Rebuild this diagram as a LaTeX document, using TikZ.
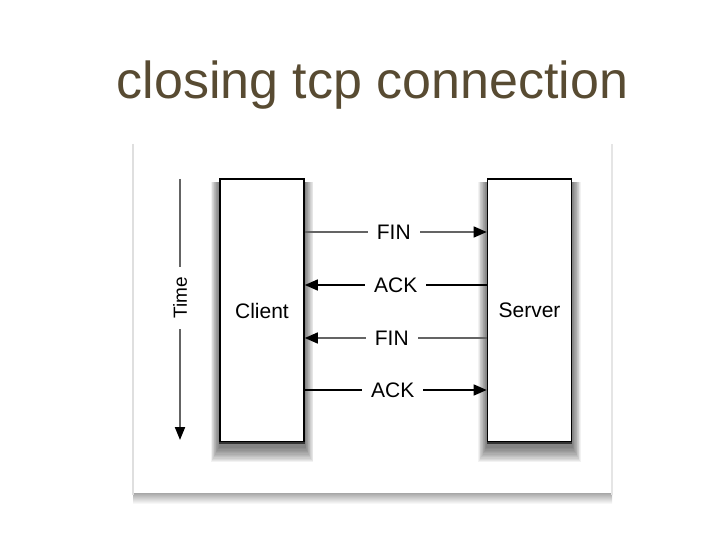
\documentclass[tikz,border=0pt]{standalone}
\usepackage{fontspec}
\setmainfont{Liberation Sans}
\usetikzlibrary{arrows.meta}
\pgfdeclarelayer{back}
\pgfdeclarelayer{shadow}
\pgfsetlayers{back,shadow,main}
\definecolor{titlecol}{RGB}{88,75,50}
\definecolor{msggray}{RGB}{100,100,100}
\tikzset{
  box/.style={draw=black, line width=1.6pt, fill=white, minimum width=84pt, minimum height=263pt,
    inner sep=0pt, font=\fontsize{21}{24}\selectfont},
  msg/.style={line width=1.5pt, -{Triangle[length=13pt,width=11pt,color=black]}},
  lbl/.style={fill=white, inner xsep=9pt, inner ysep=2pt, font=\fontsize{21}{24}\selectfont},
  shadowstep/.style={fill=black, opacity=0.05},
}
\begin{document}
\begin{tikzpicture}[x=1pt,y=-1pt]
\useasboundingbox (0,0) rectangle (720,540);
% title
\node[anchor=base, text=titlecol, font=\fontsize{52}{60}\selectfont, inner sep=0pt] (title) at (372.5,99) {closing tcp connection};
% panel
\begin{pgfonlayer}{back}
\shade[top color=gray!75, bottom color=white] (133,492) rectangle (612,504);
\fill[white] (133,144) rectangle (612,493);
\draw[gray!25, line width=1.2pt] (133,144) -- (133,495);
\draw[gray!20, line width=1.2pt] (612,144) -- (612,495);
\end{pgfonlayer}
% boxes
\node[box] (client) at (262,310.5) {Client};
\node[box] (server) at (529.5,310.5) {Server};
\begin{pgfonlayer}{shadow}
\foreach \n in {client,server}{
  \foreach \d in {1,...,12}{
    \fill[shadowstep] ([xshift=-0.7*\d pt, yshift=-4pt]\n.north west) rectangle ([xshift=0.7*\d pt, yshift=-4pt-1.3*\d pt]\n.south east);
  }
}
\end{pgfonlayer}
\draw[black!80, line width=2.5pt] (client.south west) -- (client.south east);
\draw[black!80, line width=2.5pt] (server.south west) -- (server.south east);
% time arrow
\coordinate (t0) at (180,179);
\coordinate (t1) at (180,440);
\draw[line width=2pt, draw=msggray, -{Triangle[length=13pt,width=10pt,color=black]}] (t0) -- (t1)
  node[pos=0.455, sloped, fill=white, inner xsep=10pt, inner ysep=1pt, rotate=180, text=black, font=\fontsize{19}{22}\selectfont] (time) {Time};
% messages
\draw[msg, draw=msggray] (client.east |- 0,232) -- (server.west |- 0,232) node[lbl, midway, xshift=-2pt] (fin1) {FIN};
\draw[msg] (server.west |- 0,285) -- (client.east |- 0,285) node[lbl, midway] (ack1) {ACK};
\draw[msg, draw=msggray] (server.west |- 0,338) -- (client.east |- 0,338) node[lbl, midway, xshift=-4pt] (fin2) {FIN};
\draw[msg] (client.east |- 0,390) -- (server.west |- 0,390) node[lbl, midway, xshift=-3pt] (ack2) {ACK};
\end{tikzpicture}
\end{document}
